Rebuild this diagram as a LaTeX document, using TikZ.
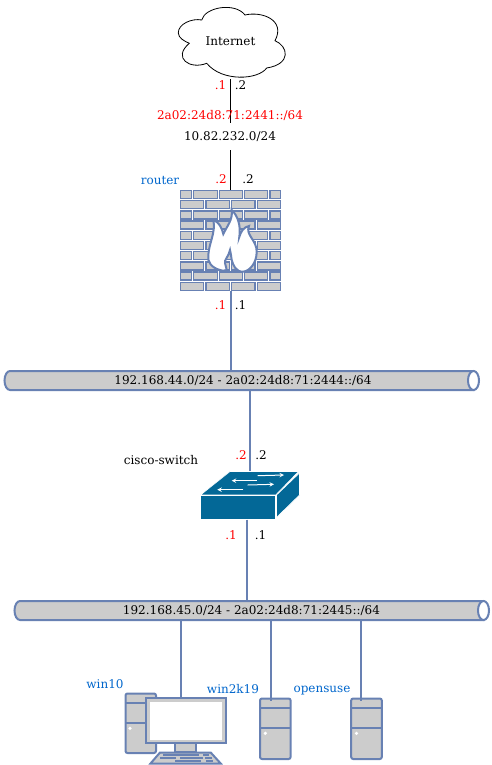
\documentclass[tikz,border=0pt]{standalone}
\usepackage{fontspec}
\setmainfont{DejaVu Serif}
\definecolor{netblue}{HTML}{6881B3}
\definecolor{hostgray}{HTML}{CCCCCC}
\definecolor{swteal}{HTML}{036897}
\definecolor{labelblue}{HTML}{0066CC}
\tikzset{
    every node/.style={font=\fontsize{12}{14}\selectfont, inner sep=0pt},
    netlink/.style={draw=netblue, line width=2pt},
    wanlink/.style={draw=black, line width=1pt},
    hostshape/.style={draw=netblue, fill=hostgray, line width=2pt, rounded corners=2pt},
    brick/.style={draw=netblue, fill=hostgray, line width=1.5pt},
    devbox/.style={minimum width=#1, minimum height=61pt},
    hostname/.style={text=labelblue},
    ipred/.style={text=red},
    netbus/.style={minimum width=475pt, minimum height=20pt},
    swarrow/.style={draw=white, line width=1pt, -stealth}
}
\begin{document}
\begin{tikzpicture}[x=1pt, y=-1pt]
    \useasboundingbox (0,0) rectangle (492,765);

    % Cloud
    \draw[fill=white, line width=0.8pt] (178.3,33) .. controls (178,24) and (192,18) .. (201.7,20)
        .. controls (205,7) and (235,2) .. (245,15)
        .. controls (262,11) and (286,20) .. (275,40.7)
        .. controls (288,46) and (292,64) .. (266.7,68)
        .. controls (258,80) and (222,82) .. (206.7,63.3)
        .. controls (190,70) and (172,58) .. (189.3,43.3)
        .. controls (184,41) and (178.5,38) .. (178.3,33) -- cycle;
    \node[minimum width=108pt, minimum height=76pt] (internet) at (230.5,41) {Internet};

    % Firewall
    \node[minimum width=101pt, minimum height=101pt] (router) at (230.5,240.5) {};
    \foreach \row in {0,2,4,6,8} {
        \foreach \xa/\xb in {180.5/191.7, 193.5/217.3, 219.3/242.3, 244.3/267.7, 270/280.5}
            \draw[brick] (\xa,{190.5+\row*10.2}) rectangle (\xb,{198.5+\row*10.2});
        \foreach \xa/\xb in {180.5/203.3, 206/229.3, 231.7/255, 257.3/280.5}
            \draw[brick] (\xa,{200.7+\row*10.2}) rectangle (\xb,{208.7+\row*10.2});
    }
    \draw[draw=netblue, fill=white, line width=2pt] (220,270) .. controls (212,268) and (207,262) .. (208.3,255)
        .. controls (209,243) and (216,232) .. (213.3,220)
        .. controls (219,222) and (222,228) .. (223.3,234)
        .. controls (227,226) and (233,220) .. (231.7,210)
        .. controls (238,216) and (241,226) .. (239.3,237)
        .. controls (241,231) and (244,227) .. (249,226)
        .. controls (245,235) and (257,240) .. (256.7,252)
        .. controls (256.5,263) and (250,271) .. (243,271.7)
        .. controls (236,272) and (233,265) .. (231.7,260)
        .. controls (231,255) and (230.5,252) .. (230,250)
        .. controls (229,256) and (224,260) .. (225,263)
        .. controls (226,266) and (226,268) .. (226.7,270)
        .. controls (224,271) and (222,271) .. (220,270) -- cycle;

    % Switch
    \node[minimum width=100pt, minimum height=48pt] (ciscosw) at (249.7,495.5) {};
    \draw[fill=swteal, draw=white, line width=0.6pt] (200.5,495) -- (230,471.5) -- (298.5,471.5) -- (275.7,495) -- cycle;
    \draw[fill=swteal, draw=white, line width=0.6pt] (200.5,495.5) rectangle (275.7,519.5);
    \draw[fill=swteal, draw=white, line width=0.6pt] (276.5,495) -- (299.5,473) -- (299.5,495) -- (276.5,517.5) -- cycle;
    \draw[swarrow] (257.7,475.7) -- (284,475);
    \draw[swarrow] (256.7,480.7) -- (231.7,480.7);
    \draw[swarrow] (247.7,485) -- (274,484.3);
    \draw[swarrow] (243.3,489.7) -- (217.3,489.7);

    % Buses
    \foreach \busleft/\bustop in {4.5/371, 14.5/601} {
        \draw[netblue, fill=hostgray, line width=2pt] (\busleft+469,\bustop) -- (\busleft+5.5,\bustop)
            arc[start angle=90, end angle=270, x radius=5.5pt, y radius=9.5pt] -- (\busleft+469,\bustop+19) -- cycle;
        \draw[netblue, fill=white, line width=2pt] (\busleft+469,\bustop+9.5) ellipse (5.5pt and 9.5pt);
    }
    \node[netbus] (bus44) at (243,380.5) {192.168.44.0/24 - 2a02:24d8:71:2444::/64};
    \node[netbus] (bus45) at (251.5,610.5) {192.168.45.0/24 - 2a02:24d8:71:2445::/64};

    % Hosts
    \node[minimum width=101pt, minimum height=71pt] (win10) at (175.5,728.5) {};
    \draw[hostshape] (125.5,693.5) rectangle (156,753);
    \draw[netblue, line width=2pt] (125.5,703.3) -- (156,703.3) (125.5,723.3) -- (156,723.3);
    \fill[white] (130,728.3) circle (1.8);
    \draw[hostshape, rounded corners=0pt] (175,743) rectangle (195.7,752.3);
    \draw[hostshape, rounded corners=0pt] (160,752.5) -- (210.7,752.5) -- (220.7,763.5) -- (150.5,763.5) -- cycle;
    \draw[netblue, line width=1.5pt] (163,755) -- (199,755) (203,755) -- (209,755)
        (160,758) -- (176,758) (180,758) -- (203,758) (205,758) -- (212,758)
        (175,761) -- (201,761) (206,761) -- (213,761);
    \draw[hostshape, rounded corners=0pt] (145.7,698.3) rectangle (226,743.3);
    \fill[white] (149.7,702) rectangle (222,739.5);
    \foreach \hostname/\hostx in {win2k19/275.3, opensuse/366.5} {
        \node[devbox=31pt] (\hostname) at (\hostx,728.7) {};
        \draw[hostshape] (\hostx-15.3,698.5) rectangle (\hostx+15.3,759);
        \draw[netblue, line width=2pt] (\hostx-15.3,708.3) -- (\hostx+15.3,708.3)
            (\hostx-15.3,728.3) -- (\hostx+15.3,728.3);
        \fill[white] (\hostx-10,733.3) circle (1.8);
    }

    % Links
    \coordinate (swdown) at (246.7,519.5);
    \coordinate (tapwinten) at (180.5,699);
    \coordinate (tapwinsrv) at (271.3,701);
    \coordinate (tapsuse) at (361.3,701);
    \draw[wanlink] (internet.south -| router.north) -- (router.north);
    \draw[netlink] (router.south) -- (router.south |- bus44.north);
    \draw[netlink] (bus44.south -| ciscosw.north) -- (ciscosw.north);
    \draw[netlink] (swdown) -- (swdown |- bus45.north);
    \draw[netlink] (tapwinten |- bus45.south) -- (tapwinten);
    \draw[netlink] (tapwinsrv |- bus45.south) -- (tapwinsrv);
    \draw[netlink] (tapsuse |- bus45.south) -- (tapsuse);

    % Labels
    \node[ipred] (wanaddrsix) at (230,115) {2a02:24d8:71:2441::/64};
    \node[fill=white, minimum width=96pt, minimum height=27pt] (wanaddr) at (230,136.5) {10.82.232.0/24};
    \node[ipred] (inetred) at (220.5,85.5) {.1};
    \node (inetblack) at (240.5,85.5) {.2};
    \node[ipred] (rtupred) at (221,179.5) {.2};
    \node (rtupblack) at (248,179.5) {.2};
    \node[ipred] (rtdownred) at (220.5,305.5) {.1};
    \node (rtdownblack) at (240.5,305.5) {.1};
    \node[ipred] (swupred) at (241,455.5) {.2};
    \node (swupblack) at (261,455.5) {.2};
    \node[ipred] (swdownred) at (231,535.5) {.1};
    \node (swdownblack) at (260.5,535.5) {.1};
    \node[hostname] (routername) at (160,180.5) {router};
    \node (switchname) at (161,460.5) {cisco-switch};
    \node[hostname] (winname) at (105,684) {win10};
    \node[hostname] (winsrvname) at (233,689) {win2k19};
    \node[hostname] (susename) at (322,691) {opensuse};
\end{tikzpicture}
\end{document}
